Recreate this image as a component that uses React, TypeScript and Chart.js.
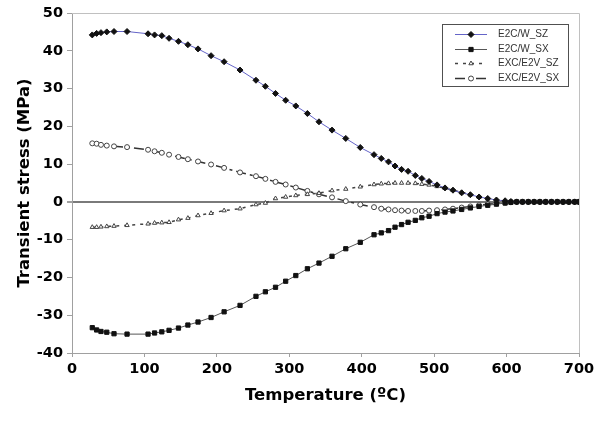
import React, { useEffect, useRef } from 'react';
import { Chart, registerables } from 'chart.js';
import { drawPoint } from 'chart.js/helpers';

Chart.register(...registerables);

// Temperatures (ºC) at which each series was sampled
const temperatures = [
  28, 34, 40, 48, 58, 76,
  105, 114, 124, 134, 147, 160, 174, 192, 210, 232,
  254, 267, 281, 295, 309, 325, 341, 359, 378, 398,
  417, 427, 437, 446, 455, 464, 474, 483, 493, 504,
  515, 526, 538, 550, 562, 574, 586, 598,
  606, 614, 622, 630, 638, 646, 654, 662, 670, 678, 686, 694, 700,
];

const e2cwSZ = [
  44.2, 44.6, 44.8, 45.0, 45.1, 45.1,
  44.5, 44.2, 44.0, 43.3, 42.5, 41.6, 40.5, 38.7, 37.1, 34.9,
  32.2, 30.6, 28.7, 26.9, 25.4, 23.4, 21.2, 19.0, 16.8, 14.4,
  12.5, 11.5, 10.6, 9.5, 8.6, 8.1, 7.0, 6.2, 5.4, 4.5,
  3.7, 3.1, 2.4, 1.9, 1.3, 0.9, 0.5, 0.3,
  0.1, 0, 0, 0, 0, 0, 0, 0, 0, 0, 0, 0, 0,
];

const e2cwSX = [
  -33.3, -33.9, -34.3, -34.5, -34.9, -35.0,
  -35.0, -34.7, -34.4, -34.0, -33.4, -32.6, -31.8, -30.6, -29.1, -27.4,
  -25.0, -23.8, -22.6, -21.0, -19.5, -17.7, -16.2, -14.4, -12.4, -10.7,
  -8.7, -8.2, -7.6, -6.7, -6.0, -5.4, -4.9, -4.2, -3.8, -3.1,
  -2.7, -2.4, -2.0, -1.6, -1.2, -0.9, -0.6, -0.3,
  -0.1, 0, 0, 0, 0, 0, 0, 0, 0, 0, 0, 0, 0,
];

const excE2vSZ = [
  -6.7, -6.7, -6.6, -6.5, -6.4, -6.2,
  -5.8, -5.6, -5.5, -5.4, -4.7, -4.3, -3.6, -3.0, -2.3, -1.8,
  -0.7, -0.3, 0.9, 1.3, 1.7, 2.0, 2.3, 3.0, 3.4, 4.0,
  4.6, 4.8, 4.9, 5.0, 5.0, 5.0, 4.9, 4.7, 4.5, 4.1,
  3.6, 3.1, 2.5, 1.9, 1.3, 0.8, 0.4, 0.2,
  0.0, 0, 0, 0, 0, 0, 0, 0, 0, 0, 0, 0, 0,
];

const excE2vSX = [
  15.5, 15.4, 15.1, 14.9, 14.7, 14.5,
  13.8, 13.4, 13.0, 12.5, 11.9, 11.3, 10.7, 9.9, 9.0, 7.8,
  6.8, 6.1, 5.3, 4.6, 3.8, 2.9, 2.0, 1.2, 0.2, -0.7,
  -1.4, -1.8, -2.0, -2.2, -2.3, -2.4, -2.4, -2.4, -2.3, -2.2,
  -2.0, -1.8, -1.5, -1.2, -0.9, -0.6, -0.4, -0.2,
  -0.1, 0, 0, 0, 0, 0, 0, 0, 0, 0, 0, 0, 0,
];

const seriesNames = ['E2C/W_SZ', 'E2C/W_SX', 'EXC/E2V_SZ', 'EXC/E2V_SX'];
const xAxisTitle = 'Temperature (ºC)';
const yAxisTitle = 'Transient stress (MPa)';

const toPoints = (vals: number[]) => vals.map((v, i) => ({ x: temperatures[i], y: v }));

const frameAndLegend = {
  id: 'frameAndLegend',
  beforeDatasetsDraw(chart: any) {
    const { ctx, chartArea: a } = chart;
    ctx.save();
    ctx.strokeStyle = '#c0c0c0';
    ctx.lineWidth = 1;
    ctx.beginPath();
    ctx.moveTo(a.left, a.top + 0.5);
    ctx.lineTo(a.right + 0.5, a.top + 0.5);
    ctx.lineTo(a.right + 0.5, a.bottom);
    ctx.stroke();
    ctx.restore();
  },
  afterDraw(chart: any) {
    const { ctx, chartArea: a } = chart;
    const x0 = a.right - 137;
    const y0 = a.top + 11;
    const w = 126;
    const h = 62;
    ctx.save();
    ctx.fillStyle = '#ffffff';
    ctx.fillRect(x0, y0, w, h);
    ctx.strokeStyle = '#505050';
    ctx.lineWidth = 1;
    ctx.strokeRect(x0 + 0.5, y0 + 0.5, w, h);
    chart.data.datasets.forEach((ds: any, i: number) => {
      const y = Math.round(y0 + 10 + i * 14.6) + 0.5;
      ctx.strokeStyle = ds.borderColor;
      ctx.lineWidth = ds.borderWidth;
      ctx.setLineDash(ds.borderDash || []);
      ctx.beginPath();
      ctx.moveTo(x0 + 13, y);
      ctx.lineTo(x0 + 45, y);
      ctx.stroke();
      ctx.setLineDash([]);
      ctx.fillStyle = ds.pointBackgroundColor;
      ctx.strokeStyle = ds.pointBorderColor;
      ctx.lineWidth = 1;
      drawPoint(ctx, { pointStyle: ds.pointStyle, radius: ds.pointRadius, rotation: 0, borderWidth: 1 }, x0 + 29, y);
      ctx.fillStyle = '#333';
      ctx.font = '10px "Liberation Sans", Arial, sans-serif';
      ctx.textBaseline = 'middle';
      ctx.textAlign = 'left';
      ctx.fillText(ds.label, x0 + 56, y);
    });
    ctx.restore();
  },
};

export default function App() {
  const canvasRef = useRef<HTMLCanvasElement | null>(null);

  useEffect(() => {
    document.body.style.margin = '0';
    const canvas = canvasRef.current;
    if (!canvas) return;
    const tickFont = { family: '"DejaVu Sans", sans-serif', weight: 'bold' as const, size: 14.5 };
    const titleFont = { family: '"DejaVu Sans", sans-serif', weight: 'bold' as const, size: 16.5 };

    const chart = new Chart(canvas, {
      type: 'line',
      data: {
        datasets: [
          {
            label: seriesNames[0],
            data: toPoints(e2cwSZ),
            borderColor: '#6464c8',
            borderWidth: 1,
            pointStyle: 'rectRot',
            pointRadius: 3,
            pointBackgroundColor: '#111111',
            pointBorderColor: '#111111',
            pointBorderWidth: 1,
          },
          {
            label: seriesNames[1],
            data: toPoints(e2cwSX),
            borderColor: '#555555',
            borderWidth: 1,
            pointStyle: 'rect',
            pointRadius: 3,
            pointBackgroundColor: '#111111',
            pointBorderColor: '#111111',
            pointBorderWidth: 1,
          },
          {
            label: seriesNames[2],
            data: toPoints(excE2vSZ),
            borderColor: '#444444',
            borderWidth: 1.5,
            borderDash: [3, 5],
            pointStyle: 'triangle',
            pointRadius: 2.5,
            pointBackgroundColor: '#ffffff',
            pointBorderColor: '#444444',
            pointBorderWidth: 1,
          },
          {
            label: seriesNames[3],
            data: toPoints(excE2vSX),
            borderColor: '#333333',
            borderWidth: 1.5,
            borderDash: [10, 4, 3, 4],
            pointStyle: 'circle',
            pointRadius: 2.5,
            pointBackgroundColor: '#ffffff',
            pointBorderColor: '#444444',
            pointBorderWidth: 1,
          },
        ],
      },
      options: {
        responsive: false,
        animation: false,
        parsing: false as any,
        layout: { padding: { top: 13, right: 23, left: 0, bottom: 0 } },
        plugins: {
          legend: { display: false },
          tooltip: { enabled: false },
        },
        elements: { line: { tension: 0 } },
        scales: {
          x: {
            type: 'linear',
            min: 0,
            max: 700,
            ticks: { stepSize: 100, color: '#000', font: tickFont, padding: 4, maxRotation: 0 },
            grid: { drawOnChartArea: false, tickLength: 4, color: '#a0a0a0' },
            border: { color: '#a0a0a0' },
            title: {
              display: true,
              text: xAxisTitle,
              color: '#000',
              font: titleFont,
              padding: { top: 0, bottom: 15 },
            },
            afterFit: (s: any) => { s.height = 68; },
          },
          y: {
            type: 'linear',
            min: -40,
            max: 50,
            ticks: { stepSize: 10, color: '#000', font: tickFont, padding: 4 },
            grid: {
              color: (c: any) => (c.tick && c.tick.value === 0 ? '#7a7a7a' : 'rgba(0,0,0,0)'),
              lineWidth: (c: any) => (c.tick && c.tick.value === 0 ? 2 : 1),
              tickColor: '#a0a0a0',
              tickLength: 5,
            },
            border: { color: '#a0a0a0' },
            title: {
              display: true,
              text: yAxisTitle,
              color: '#000',
              font: titleFont,
              padding: { top: 15, bottom: 0 },
            },
            afterFit: (s: any) => { s.width = 72; },
          },
        },
      },
      plugins: [frameAndLegend],
    });
    return () => chart.destroy();
  }, []);

  return (
    <div style={{ width: 602, height: 421, background: '#fff' }}>
      <canvas ref={canvasRef} width={602} height={421} style={{ display: 'block' }} />
    </div>
  );
}
